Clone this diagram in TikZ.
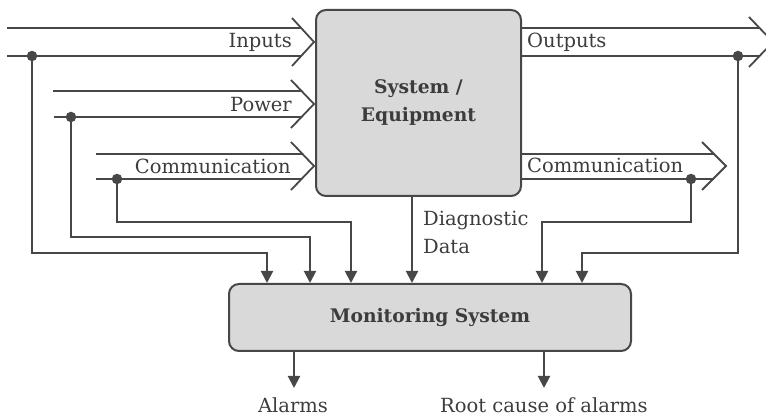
\documentclass[tikz,border=0pt]{standalone}
\usepackage{fontspec}
\setmainfont{DejaVu Serif}
\usetikzlibrary{arrows.meta}
\definecolor{ink}{HTML}{474747}
\definecolor{txt}{HTML}{3C3C3C}
\definecolor{boxfill}{HTML}{D9D9D9}

\begin{document}
\begin{tikzpicture}[x=1pt,y=-1pt,
  wire/.style={draw=ink, line width=2pt},
  feed/.style={wire, -{Triangle[width=12pt,length=12pt]}},
  chevron/.style={draw=ink, line width=1.8pt, line join=miter},
  junction/.style={circle, fill=ink, inner sep=0pt, minimum size=10.5pt},
  block/.style={draw=ink, line width=2pt, fill=boxfill, rounded corners=10pt,
    inner sep=0pt, text=txt, align=center,
    font=\fontsize{18.7}{28}\selectfont\bfseries},
  lbl/.style={text=txt, inner sep=0pt, font=\fontsize{19.5}{28}\selectfont}]

\useasboundingbox (0,0) rectangle (766,419);

% main blocks
\node[block, minimum width=205pt, minimum height=186pt] (sys) at (418.5,103) {System /\\Equipment};
\node[block, minimum width=402pt, minimum height=67pt] (mon) at (430,317.5) {Monitoring System};

% input line pairs
\coordinate (inA) at (7,28);   \coordinate (inAe) at (301,28);
\coordinate (inB) at (7,56);   \coordinate (inBe) at (301,56);
\coordinate (pwA) at (53,91);  \coordinate (pwAe) at (302,91);
\coordinate (pwB) at (54,117); \coordinate (pwBe) at (302,117);
\coordinate (cmA) at (96,154); \coordinate (cmAe) at (302,154);
\coordinate (cmB) at (96,179); \coordinate (cmBe) at (302,179);
\draw[wire] (inA) -- (inAe);
\draw[wire] (inB) -- (inBe);
\draw[wire] (pwA) -- (pwAe);
\draw[wire] (pwB) -- (pwBe);
\draw[wire] (cmA) -- (cmAe);
\draw[wire] (cmB) -- (cmBe);
\draw[chevron] (292,18) -- (314,42) -- (292,66);
\draw[chevron] (291,80) -- (314,104) -- (291,128);
\draw[chevron] (291,142) -- (314,166) -- (291,190);

% output line pairs
\coordinate (ouAe) at (759,28);
\coordinate (ouBe) at (759,56);
\coordinate (coAe) at (714,154);
\coordinate (coBe) at (714,179);
\draw[wire] (sys.east |- ouAe) -- (ouAe);
\draw[wire] (sys.east |- ouBe) -- (ouBe);
\draw[wire] (sys.east |- coAe) -- (coAe);
\draw[wire] (sys.east |- coBe) -- (coBe);
\draw[chevron] (749,17) -- (773,42) -- (749,67);
\draw[chevron] (702,142) -- (726,166) -- (702,190);

% taps
\node[junction] (dIn) at (32,56) {};
\node[junction] (dPw) at (71,117) {};
\node[junction] (dCm) at (117,179) {};
\node[junction] (dCo) at (691,179) {};
\node[junction] (dOu) at (738,56) {};

% feeds into the monitoring system
\draw[feed] (dIn.center) |- (267,253) -- (267,0 |- mon.north);
\draw[feed] (dPw.center) |- (310,237) -- (310,0 |- mon.north);
\draw[feed] (dCm.center) |- (351,222) -- (351,0 |- mon.north);
\draw[feed] (412,0 |- sys.south) -- (412,0 |- mon.north);
\draw[feed] (dCo.center) |- (542,222) -- (542,0 |- mon.north);
\draw[feed] (dOu.center) |- (582,253) -- (582,0 |- mon.north);

% results
\coordinate (alm) at (294,388);
\coordinate (rca) at (544,388);
\draw[feed] (alm |- mon.south) -- (alm);
\draw[feed] (rca |- mon.south) -- (rca);

% labels
\node[lbl, anchor=base east] (tIn) at (292,48) {Inputs};
\node[lbl, anchor=base east] (tPw) at (292,112) {Power};
\node[lbl, anchor=base east] (tCm) at (291,174) {Communication};
\node[lbl, anchor=base west] (tOu) at (527,48) {Outputs};
\node[lbl, anchor=base west] (tCo) at (527,173) {Communication};
\node[lbl, anchor=north west, align=left] (tDg) at (423,211) {Diagnostic\\Data};
\node[lbl, anchor=base] (tAl) at (293,413) {Alarms};
\node[lbl, anchor=base] (tRc) at (544,413) {Root cause of alarms};
\end{tikzpicture}
\end{document}
